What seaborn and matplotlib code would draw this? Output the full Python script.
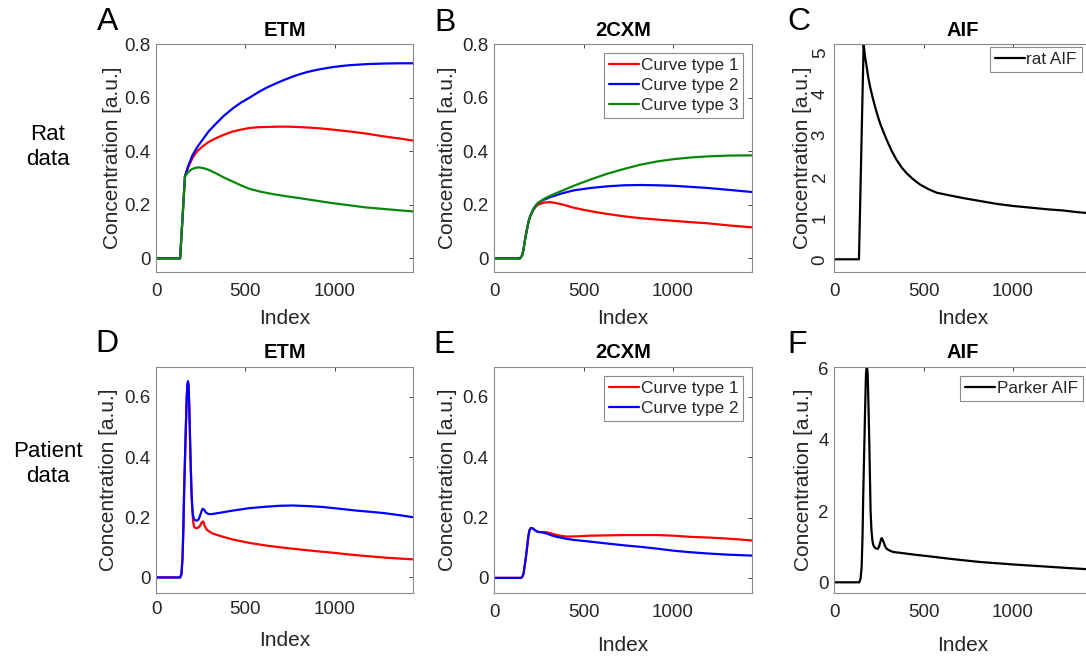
import numpy as np
import pandas as pd
import matplotlib
matplotlib.use("Agg")
import matplotlib.pyplot as plt
import seaborn as sns
from matplotlib.ticker import FuncFormatter

# ---------------- data ----------------
# A: rat data, ETM
rat_etm_x1 = [0, 135, 162, 180, 204, 230, 260, 295, 335, 380, 429, 475, 522, 570, 616, 680, 747, 820,
              897, 990, 1084, 1180, 1272, 1360, 1440]
rat_etm_y1 = [0, 0, 0.306, 0.34, 0.375, 0.4, 0.418, 0.435, 0.449, 0.462, 0.474, 0.481, 0.487, 0.49, 0.491,
              0.492, 0.492, 0.49, 0.487, 0.481, 0.474, 0.466, 0.456, 0.448, 0.44]
rat_etm_x2 = [0, 135, 162, 180, 204, 230, 260, 295, 335, 380, 429, 475, 522, 570, 616, 665, 710, 760, 803,
              850, 897, 945, 991, 1040, 1084, 1180, 1272, 1360, 1440]
rat_etm_y2 = [0, 0, 0.306, 0.345, 0.385, 0.415, 0.443, 0.475, 0.503, 0.533, 0.56, 0.582, 0.6, 0.62, 0.637,
              0.652, 0.665, 0.678, 0.688, 0.697, 0.704, 0.71, 0.715, 0.719, 0.722, 0.726, 0.728, 0.729, 0.729]
rat_etm_x3 = [0, 135, 162, 180, 200, 220, 240, 265, 290, 335, 380, 429, 475, 522, 585, 654, 730, 803, 900,
              991, 1085, 1178, 1300, 1440]
rat_etm_y3 = [0, 0, 0.306, 0.322, 0.333, 0.338, 0.34, 0.337, 0.332, 0.318, 0.302, 0.287, 0.273, 0.26, 0.249,
              0.24, 0.232, 0.225, 0.215, 0.206, 0.198, 0.19, 0.183, 0.175]

# B: rat data, 2CXM
rat_2cxm_x1 = [0, 144, 155, 163, 172, 182, 191, 200, 214, 228, 242, 257, 285, 313, 350, 388, 440, 500, 565,
               631, 725, 818, 910, 1006, 1100, 1193, 1310, 1440]
rat_2cxm_y1 = [0, 0, 0.01, 0.031, 0.07, 0.106, 0.135, 0.156, 0.176, 0.19, 0.2, 0.204, 0.209, 0.21, 0.206,
               0.2, 0.19, 0.181, 0.173, 0.166, 0.157, 0.15, 0.145, 0.14, 0.135, 0.131, 0.123, 0.116]
rat_2cxm_x2 = [0, 144, 155, 163, 172, 182, 191, 200, 214, 228, 242, 257, 285, 313, 380, 444, 540, 631, 725,
               818, 910, 1006, 1100, 1193, 1310, 1440]
rat_2cxm_y2 = [0, 0, 0.01, 0.031, 0.07, 0.106, 0.135, 0.156, 0.178, 0.194, 0.205, 0.212, 0.221, 0.229,
               0.243, 0.254, 0.263, 0.269, 0.273, 0.274, 0.273, 0.271, 0.267, 0.263, 0.256, 0.248]
rat_2cxm_x3 = [0, 144, 155, 163, 172, 182, 191, 200, 214, 228, 242, 257, 285, 313, 380, 444, 540, 631, 725,
               818, 910, 1006, 1100, 1193, 1310, 1440]
rat_2cxm_y3 = [0, 0, 0.01, 0.031, 0.07, 0.106, 0.135, 0.156, 0.178, 0.194, 0.205, 0.213, 0.225, 0.234,
               0.253, 0.271, 0.295, 0.316, 0.334, 0.35, 0.362, 0.371, 0.377, 0.381, 0.384, 0.385]

# C: rat AIF
rat_aif_x = [0, 138, 164, 172, 181, 190, 200, 214, 228, 242, 256, 275, 293, 320, 349, 377, 405, 440, 479,
             525, 573, 640, 722, 815, 909, 1000, 1095, 1190, 1282, 1360, 1440]
rat_aif_y = [0, 0, 5.2, 4.9, 4.66, 4.4, 4.18, 3.92, 3.69, 3.48, 3.29, 3.08, 2.89, 2.63, 2.40, 2.22, 2.08,
             1.94, 1.81, 1.7, 1.61, 1.55, 1.48, 1.41, 1.34, 1.29, 1.25, 1.21, 1.18, 1.14, 1.11]

# D: patient data, ETM
pat_etm_x1 = [0, 135, 142, 148, 153, 157, 162, 167, 172, 176, 179, 182, 186, 189, 194, 199, 204, 208, 213,
              222, 232, 245, 255, 264, 272, 283, 300, 316, 370, 429, 520, 616, 710, 803, 900, 991, 1085,
              1178, 1300, 1440]
pat_etm_y1 = [0, 0, 0.01, 0.06, 0.16, 0.28, 0.39, 0.5, 0.6, 0.64, 0.645, 0.635, 0.565, 0.49, 0.37, 0.27,
              0.215, 0.185, 0.168, 0.164, 0.164, 0.17, 0.182, 0.186, 0.172, 0.159, 0.152, 0.146, 0.136,
              0.126, 0.115, 0.106, 0.099, 0.093, 0.087, 0.082, 0.076, 0.071, 0.065, 0.06]
pat_etm_x2 = [0, 135, 142, 148, 153, 157, 162, 167, 172, 176, 179, 182, 186, 189, 194, 199, 204, 208, 213,
              219, 228, 238, 249, 260, 268, 279, 292, 307, 360, 429, 520, 616, 690, 766, 850, 934, 1030,
              1122, 1200, 1272, 1360, 1440]
pat_etm_y2 = [0, 0, 0.01, 0.06, 0.16, 0.28, 0.39, 0.5, 0.6, 0.646, 0.652, 0.64, 0.57, 0.498, 0.38, 0.28,
              0.225, 0.203, 0.193, 0.19, 0.189, 0.192, 0.21, 0.228, 0.226, 0.216, 0.211, 0.21, 0.215,
              0.222, 0.23, 0.235, 0.238, 0.239, 0.237, 0.234, 0.228, 0.222, 0.218, 0.214, 0.207, 0.2]

# E: patient data, 2CXM
pat_2cxm_x1 = [0, 150, 157, 163, 170, 178, 185, 191, 197, 204, 212, 219, 228, 238, 250, 266, 280, 294, 320,
               350, 380, 406, 470, 537, 630, 725, 820, 912, 1000, 1099, 1190, 1287, 1360, 1440]
pat_2cxm_y1 = [0, 0, 0.004, 0.013, 0.04, 0.074, 0.11, 0.14, 0.158, 0.165, 0.165, 0.162, 0.158, 0.154,
               0.152, 0.152, 0.152, 0.151, 0.147, 0.142, 0.139, 0.137, 0.138, 0.14, 0.141, 0.142, 0.142,
               0.142, 0.14, 0.136, 0.134, 0.131, 0.128, 0.124]
pat_2cxm_x2 = [0, 150, 157, 163, 170, 178, 185, 191, 197, 204, 212, 219, 228, 238, 250, 266, 280, 294, 320,
               350, 400, 444, 540, 631, 725, 818, 910, 1006, 1100, 1193, 1310, 1440]
pat_2cxm_y2 = [0, 0, 0.004, 0.013, 0.04, 0.074, 0.11, 0.14, 0.158, 0.165, 0.165, 0.162, 0.158, 0.154,
               0.152, 0.151, 0.149, 0.147, 0.141, 0.136, 0.13, 0.126, 0.12, 0.114, 0.108, 0.103, 0.097,
               0.09, 0.085, 0.081, 0.077, 0.074]

# F: Parker AIF
parker_x = [0, 140, 147, 153, 158, 162, 166, 170, 174, 177, 180, 183, 186, 188, 192, 196, 200, 203, 208, 213,
            218, 224, 233, 243, 250, 256, 261, 265, 270, 278, 285, 293, 310, 330, 380, 442, 530, 629, 720,
            815, 910, 1002, 1095, 1188, 1310, 1440]
parker_y = [0, 0, 0.1, 0.44, 1.3, 2.47, 3.4, 4.32, 5.2, 5.8, 6.0, 6.04, 5.9, 5.62, 4.8, 3.86, 2.8, 2.0, 1.45,
            1.18, 1.05, 0.99, 0.95, 0.94, 1.0, 1.1, 1.2, 1.24, 1.2, 1.1, 1.0, 0.94, 0.89, 0.85, 0.82, 0.78,
            0.73, 0.67, 0.62, 0.57, 0.535, 0.5, 0.47, 0.44, 0.4, 0.36]

curve_labels = ["Curve type 1", "Curve type 2", "Curve type 3"]
x_ticks = [0, 500, 1000]

# ---------------- style ----------------
sns.set_style("white")
plt.rcParams["font.family"] = ["Liberation Sans", "DejaVu Sans"]

RED, BLUE, GREEN = "#ff0000", "#0000ff", "#0a870a"
W, H = 1086, 656
fig = plt.figure(figsize=(W / 100, H / 100), dpi=100)


def make_ax(left, top, right, bottom):
    return fig.add_axes([left / W, 1 - bottom / H, (right - left) / W, (bottom - top) / H])


axA = make_ax(156, 44.3, 413.4, 271.7)
axB = make_ax(494.3, 44.3, 751.7, 271.7)
axC = make_ax(834.3, 44.3, 1091.7, 271.7)
axD = make_ax(156, 366.7, 413.4, 592.5)
axE = make_ax(494.3, 366.7, 751.7, 593)
axF = make_ax(834.3, 366.7, 1091.7, 593)

LW = 1.6


def draw(ax, x, y, color, label=None):
    sns.lineplot(x=x, y=y, color=color, ax=ax, linewidth=LW, label=label,
                 legend=False, sort=False, estimator=None)


draw(axA, rat_etm_x1, rat_etm_y1, RED)
draw(axA, rat_etm_x2, rat_etm_y2, BLUE)
draw(axA, rat_etm_x3, rat_etm_y3, GREEN)

draw(axB, rat_2cxm_x1, rat_2cxm_y1, RED, curve_labels[0])
draw(axB, rat_2cxm_x2, rat_2cxm_y2, BLUE, curve_labels[1])
draw(axB, rat_2cxm_x3, rat_2cxm_y3, GREEN, curve_labels[2])

draw(axC, rat_aif_x, rat_aif_y, "black", "rat AIF")

draw(axD, pat_etm_x1, pat_etm_y1, RED)
draw(axD, pat_etm_x2, pat_etm_y2, BLUE)

draw(axE, pat_2cxm_x1, pat_2cxm_y1, RED, curve_labels[0])
draw(axE, pat_2cxm_x2, pat_2cxm_y2, BLUE, curve_labels[1])

draw(axF, parker_x, parker_y, "black", "Parker AIF")

fmt = FuncFormatter(lambda v, p: f"{v:g}")


def setup(ax, ylim, yticks, title, xpad, ylab_x, xlab_y, yrot=0):
    ax.set_xlim(0, 1440)
    ax.set_ylim(*ylim)
    ax.set_xticks(x_ticks)
    ax.set_yticks(yticks)
    ax.xaxis.set_major_formatter(fmt)
    ax.yaxis.set_major_formatter(fmt)
    for sp in ax.spines.values():
        sp.set_visible(True)
        sp.set_color("#8a8a8a")
        sp.set_linewidth(0.8)
    ax.tick_params(axis="both", direction="in", length=3, width=0.6,
                   top=True, right=True, labelsize=13.5, colors="#262626")
    ax.tick_params(axis="x", pad=xpad)
    ax.tick_params(axis="y", pad=4, labelrotation=yrot)
    if yrot:
        for t in ax.get_yticklabels():
            t.set_va("center")
    ax.set_title(title, fontsize=14.5, fontweight="bold", pad=6.2, color="black")
    ax.set_xlabel("Index", fontsize=15, color="#262626")
    ax.set_ylabel("Concentration [a.u.]", fontsize=15, color="#262626")
    ax.xaxis.label.set_va("center")
    ax.yaxis.label.set_va("center")
    ax.xaxis.set_label_coords(0.5, xlab_y)
    ax.yaxis.set_label_coords(ylab_x, 0.5)
    for ln in ax.get_lines():
        ln.set_solid_joinstyle("round")


setup(axA, (-0.05, 0.8), [0, 0.2, 0.4, 0.6, 0.8], "ETM", 8.2, -0.17, -0.204)
setup(axB, (-0.05, 0.8), [0, 0.2, 0.4, 0.6, 0.8], "2CXM", 8.2, -0.18, -0.204)
setup(axC, (-0.3, 5.2), [0, 1, 2, 3, 4, 5], "AIF", 8.2, -0.125, -0.206, yrot=90)
setup(axD, (-0.05, 0.7), [0, 0.2, 0.4, 0.6], "ETM", 6.0, -0.185, -0.213)
setup(axE, (-0.05, 0.7), [0, 0.2, 0.4, 0.6], "2CXM", 8.2, -0.183, -0.232)
setup(axF, (-0.3, 6.05), [0, 2, 4, 6], "AIF", 8.2, -0.118, -0.232)


def leg(ax, right_px, top_px, ax_left, ax_top, ax_w, ax_h):
    bx = (right_px - ax_left) / ax_w
    by = 1 - (top_px - ax_top) / ax_h
    lg = ax.legend(loc="upper right", bbox_to_anchor=(bx, by), borderaxespad=0,
                   fontsize=12.3, frameon=True, fancybox=False, framealpha=1,
                   edgecolor="#8a8a8a", handlelength=1.75, handletextpad=0.1,
                   labelspacing=0.28, borderpad=0.3)
    lg.get_frame().set_linewidth(0.8)


leg(axB, 743.3, 53.3, 494.3, 44.3, 257.4, 227.4)
leg(axC, 1082, 46.7, 834.3, 44.3, 257.4, 227.4)
leg(axE, 743.3, 375.7, 494.3, 366.7, 257.4, 226.3)
leg(axF, 1083, 375.7, 834.3, 366.7, 257.4, 226.3)

# panel letters
for letter, (px, py) in {"A": (107.5, 21.7), "B": (445, 23), "C": (799, 22.5),
                         "D": (107, 344), "E": (444, 345), "F": (797, 345)}.items():
    fig.text(px / W, 1 - py / H, letter, fontsize=23, ha="center", va="center", color="black")

# row labels
fig.text(48 / W, 1 - 146.5 / H, "Rat\ndata", fontsize=16, ha="center", va="center",
         linespacing=1.25, color="black")
fig.text(48 / W, 1 - 464 / H, "Patient\ndata", fontsize=16, ha="center", va="center",
         linespacing=1.25, color="black")

fig.savefig("out.png", dpi=100)
